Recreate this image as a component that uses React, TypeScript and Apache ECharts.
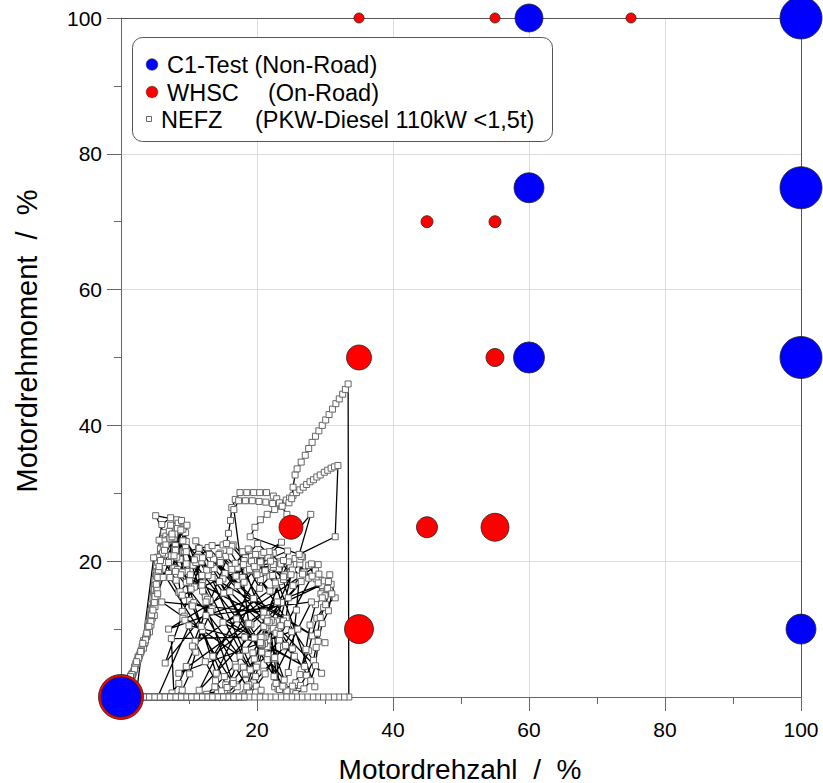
import React, { useEffect, useRef } from "react";
import * as echarts from "echarts";

// ---------- data ----------
const axisTicks = [20, 40, 60, 80, 100];

const c1Speed = [0, 60, 100, 60, 100, 60, 100, 100];
const c1Torque = [0, 100, 100, 75, 75, 50, 50, 10];
const c1Size = [40, 28, 42, 30, 42, 31, 42, 30];

const whscSpeed = [0, 35, 55, 75, 45, 55, 35, 55, 25, 45, 55, 35];
const whscTorque = [0, 100, 100, 100, 70, 70, 50, 50, 25, 25, 25, 10];
const whscSize = [45, 10, 10, 10, 12, 12, 25, 18, 24, 21, 28, 29];

// NEFZ trace (engine speed %, torque %)
const nefzA1 = [[0,0],[1.0,2.0],[2.0,4.4],[2.9,6.6],[3.8,8.9],[4.6,11.6],[5.1,14.4],[5.4,17.2],[5.6,19.6],[5.9,22.0],[6.3,24.2],[5.1,26.7],[8.2,26.1],[9.3,23.0],[10.6,19.4],[12.0,16.8],[13.1,14.2],[13.4,13.0],[13.2,12.6],[12.0,9.8],[10.8,7.2],[9.6,4.5],[8.5,2.0],[7.5,0.6],[6.6,0],[5.8,0],[5.0,0],[4.2,0],[3.4,0],[2.6,0],[1.8,0],[1.0,0],[0,0]];
const nefzA2 = [[0,0],[1.6,3.4],[2.5,5.9],[3.3,8.3],[4.0,10.9],[4.5,13.6],[4.9,16.4],[5.3,18.9],[6.0,21.4],[7.0,23.0],[8.5,24.5],[6.4,19.8],[8.1,17.2],[9.7,18.5],[11.3,20.6],[12.9,18.7],[14.6,21.2],[16.2,19.3],[17.9,17.6],[19.5,20.1],[21.1,18.4],[22.8,16.5],[23.6,13.9],[22.9,11.2],[22.4,10.6],[22.7,10.2],[23.3,8.4],[21.6,6.3],[20.1,4.8],[18.4,3.3],[16.9,1.8],[15.6,0.5],[14.6,0],[13.8,0],[13.0,0],[12.2,0],[11.4,0],[10.6,0],[9.8,0],[9.0,0],[8.2,0],[7.0,0],[4.6,0],[0,0]];
const nefzA3 = [[0,0],[1.8,3.6],[2.7,6.1],[3.6,8.6],[4.3,11.4],[4.8,14.1],[5.0,16.7],[5.2,19.3],[5.8,21.8],[6.6,23.7],[7.6,25.1],[7.0,18.2],[8.7,20.3],[10.2,18.0],[11.9,16.4],[13.7,18.9],[15.4,20.7],[17.1,19.0],[18.9,21.6],[20.6,19.7],[22.4,21.2],[17.9,21.4],[19.0,18.6],[20.4,16.0],[21.9,17.8],[23.4,19.9],[24.9,18.3],[26.3,19.6],[27.6,17.5],[28.6,18.6],[29.4,17.2],[29.7,15.5],[30.7,18.0],[31.5,14.6],[29.8,13.2],[28.8,11.6],[28.1,9.0],[27.6,6.8],[26.5,4.0],[25.7,2.1],[24.8,0.8],[23.6,1.5],[22.6,1.5],[21.6,8.4],[21.2,8.9],[20.9,8.7],[20.6,8.8],[19.4,6.5],[18.0,4.4],[16.5,2.4],[15.2,0.8],[14.2,0],[13.4,0],[12.6,0],[11.8,0],[11.0,0],[9.6,0],[8.0,0],[6.6,0],[5.2,0],[3.2,0],[0,0]];
const nefzB1 = [[0,0],[1.3,2.8],[2.2,5.0],[3.1,7.4],[3.9,10.0],[4.4,12.7],[4.8,15.3],[5.1,17.9],[5.5,20.4],[6.2,22.6],[7.1,24.4],[8.4,25.6],[9.1,21.4],[9.6,16.9],[10.1,14.2],[10.4,13.6],[10.7,13.9],[10.5,13.4],[15.4,1.8],[14.2,0.6],[8.6,0],[7.8,0],[7.0,0],[6.2,0],[5.4,0],[4.6,0],[3.8,0],[3.0,0],[2.2,0],[1.4,0],[0,0]];
const nefzB2 = [[0,0],[1.9,3.9],[2.8,6.4],[3.7,9.0],[4.3,11.8],[4.7,14.6],[5.0,17.3],[5.4,19.8],[6.3,22.1],[7.4,23.8],[9.0,24.9],[7.2,17.6],[8.5,15.4],[10.1,17.1],[11.8,19.9],[13.4,17.6],[15.1,15.3],[16.9,17.8],[18.6,19.5],[20.4,17.9],[22.1,19.2],[23.8,17.4],[24.6,14.6],[24.3,11.6],[23.9,11.2],[24.5,10.8],[25.1,9.6],[23.9,7.4],[22.6,5.6],[21.0,3.8],[19.5,2.1],[18.3,0.6],[17.5,0],[16.7,0],[15.9,0],[15.1,0],[14.3,0],[13.5,0],[12.7,0],[11.9,0],[11.1,0],[10.3,0],[8.9,0],[6.1,0],[0,0]];
const nefzB3 = [[0,0],[1.5,3.0],[2.4,5.4],[3.4,7.8],[4.1,10.4],[4.6,13.1],[4.9,15.8],[5.3,18.4],[5.9,21.0],[6.9,23.2],[8.0,24.3],[7.8,19.0],[9.3,21.5],[11.0,19.8],[12.8,22.0],[14.6,20.2],[16.5,22.4],[18.3,20.5],[20.1,22.6],[21.9,20.9],[23.6,22.8],[19.2,20.0],[20.5,17.3],[21.9,15.6],[23.4,17.0],[24.9,19.4],[26.3,17.8],[27.6,19.4],[28.7,17.4],[29.6,16.4],[30.3,15.8],[30.9,16.6],[30.1,13.6],[29.3,11.7],[28.9,9.4],[28.7,7.3],[28.3,5.4],[27.3,3.2],[26.4,1.7],[25.3,0.9],[24.2,1.0],[23.1,1.2],[22.0,10.0],[21.7,10.5],[21.3,10.2],[21.0,10.4],[19.6,8.7],[18.3,6.9],[16.8,4.8],[15.2,3.0],[13.8,1.5],[12.6,0.4],[11.4,0],[10.2,0],[8.6,0],[7.2,0],[5.6,0],[3.8,0],[0,0]];
const nefzC1 = [[0,0],[1.2,2.5],[2.3,4.9],[3.3,7.2],[4.2,9.6],[4.9,12.0],[5.3,14.8],[5.6,17.6],[5.8,20.3],[6.3,23.0],[7.3,25.3],[8.9,26.0],[8.0,22.3],[8.3,18.8],[8.7,15.5],[9.0,12.6],[9.3,11.9],[9.1,11.6],[9.4,11.3],[10.9,8.2],[12.4,5.2],[13.9,2.4],[14.8,0.9],[9.2,0],[8.4,0],[7.6,0],[6.8,0],[6.0,0],[5.2,0],[4.4,0],[3.6,0],[2.4,0],[0,0]];
const nefzC2 = [[0,0],[1.7,3.2],[2.6,5.7],[3.5,8.1],[4.2,10.7],[4.8,13.3],[5.2,16.0],[5.7,18.6],[6.5,21.0],[7.8,23.4],[9.5,24.2],[8.2,20.6],[9.6,22.9],[11.2,20.5],[12.8,17.9],[14.6,19.8],[16.3,22.2],[18.1,20.1],[19.9,18.3],[21.6,20.6],[23.2,18.9],[24.6,19.9],[21.4,12.2],[21.0,11.9],[21.6,11.6],[22.4,10.1],[20.8,7.6],[19.6,5.6],[18.3,3.5],[17.1,1.5],[16.0,0.2],[15.2,0],[14.4,0],[13.6,0],[12.8,0],[12.0,0],[11.2,0],[10.4,0],[9.6,0],[8.6,0],[7.4,0],[5.2,0],[0,0]];
const nefzC3 = [[0,0],[1.4,3.1],[2.5,5.5],[3.5,8.0],[4.4,10.6],[5.0,13.3],[5.3,16.0],[5.5,18.6],[6.1,21.2],[7.2,23.4],[8.3,24.8],[7.4,20.8],[9.0,18.4],[10.8,16.2],[12.6,18.7],[14.4,21.0],[16.3,18.8],[18.1,16.9],[20.0,19.2],[21.8,21.4],[23.5,19.6],[18.5,18.6],[19.8,21.0],[21.2,18.6],[22.7,16.8],[24.1,18.0],[25.6,20.4],[26.9,18.4],[28.1,17.8],[29.0,16.8],[29.4,15.2],[30.0,14.9],[29.6,14.6],[28.6,13.6],[27.8,10.6],[27.2,7.0],[26.3,3.3],[25.2,1.6],[24.0,1.4],[22.8,2.0],[21.5,7.4],[21.1,7.9],[20.8,7.7],[20.6,7.8],[19.9,4.4],[18.8,1.8],[17.9,0.3],[17.1,0],[16.3,0],[15.5,0],[14.7,0],[13.9,0],[13.1,0],[12.3,0],[11.5,0],[10.4,0],[8.8,0],[7.3,0],[5.8,0],[4.0,0],[0,0]];
const nefzD1 = [[0,0],[1.1,2.3],[2.1,4.6],[3.0,6.9],[3.9,9.3],[4.5,12.2],[4.9,15.0],[5.2,17.8],[5.4,20.6],[5.6,23.1],[6.0,25.4],[7.3,26.4],[9.1,24.7],[10.8,20.2],[12.0,15.6],[12.4,14.7],[12.7,14.4],[12.5,14.0],[11.8,10.4],[11.0,6.6],[10.1,3.4],[9.0,1.0],[7.8,0],[7.4,8.6],[18.2,8.8],[16.9,4.4],[15.6,1.4],[14.4,0],[7.0,0],[6.2,0],[5.4,0],[4.6,0],[3.8,0],[3.0,0],[2.0,0],[0,0]];
const nefzD2 = [[0,0],[2.0,4.1],[2.9,6.7],[3.8,9.4],[4.5,12.1],[5.0,14.8],[5.4,17.6],[5.8,20.1],[6.6,22.4],[7.9,24.0],[9.7,25.3],[8.8,18.0],[10.3,15.9],[11.9,17.9],[13.6,20.3],[15.3,18.2],[17.1,16.4],[18.9,18.8],[20.7,21.0],[22.4,19.1],[23.9,17.3],[25.2,18.7],[23.1,9.8],[22.8,9.4],[23.4,9.2],[24.2,7.6],[22.6,5.8],[21.2,3.4],[19.9,1.6],[18.8,0.4],[17.9,0],[17.1,0],[16.3,0],[15.5,0],[14.7,0],[13.9,0],[13.1,0],[12.3,0],[11.5,0],[10.7,0],[9.4,0],[7.8,0],[5.6,0],[0,0]];
const nefzD3 = [[0,0],[1.6,3.3],[2.6,5.8],[3.6,8.4],[4.4,11.1],[4.9,13.9],[5.2,16.6],[5.6,19.2],[6.4,21.6],[7.5,23.6],[8.8,24.6],[7.9,21.7],[9.6,19.6],[11.4,21.9],[13.2,19.5],[15.0,17.4],[16.8,19.7],[18.7,21.8],[20.5,19.9],[22.3,17.9],[23.9,20.1],[19.6,19.2],[21.0,21.3],[22.4,19.5],[23.9,17.7],[25.3,16.4],[26.7,18.1],[28.0,19.6],[29.1,18.1],[29.9,17.1],[30.4,16.0],[31.0,15.2],[30.5,12.7],[29.6,10.8],[29.0,8.2],[28.6,4.6],[27.9,2.4],[26.9,1.2],[25.7,0.5],[24.4,0.9],[23.3,1.1],[22.4,11.0],[22.1,11.3],[21.8,11.0],[21.5,11.2],[20.7,6.6],[19.8,3.0],[18.9,0.6],[18.0,0],[17.2,0],[16.4,0],[15.6,0],[14.8,0],[14.0,0],[13.2,0],[12.4,0],[11.6,0],[10.6,0],[9.2,0],[7.6,0],[6.0,0],[3.6,0],[0,0]];
// long transitions (gear changes / clutch events) that criss-cross the urban part
const nefzJumps = [[0,0],[2.2,0],[4.8,20.5],[16.5,2.0],[9.5,22.0],[20.6,1.0],[12.0,20.5],[6.5,5.0],[18.0,19.5],[24.0,2.5],[7.5,24.0],[14.0,3.5],[22.0,20.0],[28.5,1.5],[16.0,21.5],[10.5,7.5],[25.0,18.0],[19.0,4.0],[8.0,18.5],[23.5,10.5],[13.0,21.0],[29.5,3.5],[20.0,18.0],[11.5,1.0],[26.5,17.0],[17.5,6.0],[6.0,14.0],[21.0,12.5],[30.5,17.0],[15.0,11.0],[27.0,4.5],[9.0,15.0],[24.5,21.5],[18.5,1.5],[12.5,12.0],[28.0,14.0],[22.5,3.0],[14.5,17.0],[30.0,8.0],[19.5,14.5],[7.0,10.0],[16.0,15.5],[25.5,6.0],[11.0,23.0],[21.5,5.5],[29.0,19.5],[17.0,11.5],[13.5,6.0],[23.0,14.0],[8.5,3.5],[26.0,10.0],[20.5,8.0],[10.0,10.5],[5.4,0],[2.8,0],[0,0]];
const nefzEudc = [[0,0],[1.4,3.0],[2.3,5.2],[3.2,7.9],[4.1,10.4],[4.7,12.8],[5.4,15.2],[6.2,17.6],[7.0,19.8],[8.0,21.6],[9.1,23.0],[7.8,20.8],[9.6,21.4],[11.5,21.9],[13.4,22.3],[15.0,22.4],[15.5,22.6],[15.8,24.1],[16.1,26.0],[16.3,27.9],[16.8,29.1],[17.5,30.1],[18.5,30.1],[19.5,30.1],[20.4,30.1],[21.4,30.1],[22.4,29.6],[22.9,29.2],[23.6,28.1],[24.4,26.9],[25.1,25.4],[26.0,24.6],[27.9,26.9],[26.2,21.0],[26.7,20.6],[26.3,20.3],[26.5,20.7],[25.8,12.8],[25.2,7.1],[24.6,3.6],[23.8,1.6],[18.9,10.6],[18.7,10.9],[19.1,10.7],[18.8,10.8],[16.6,27.6],[17.3,28.9],[18.3,28.9],[19.3,28.9],[20.3,28.8],[21.3,28.7],[22.3,28.5],[23.3,28.6],[24.3,29.0],[24.8,29.3],[25.3,29.7],[25.8,30.1],[26.3,30.5],[26.8,30.9],[27.3,31.3],[27.8,31.7],[28.3,32.0],[28.8,32.4],[29.3,32.7],[29.9,33.1],[30.4,33.4],[30.9,33.7],[31.4,33.9],[31.9,34.1],[31.5,23.6],[26.2,21.0],[19.0,23.6],[19.7,25.0],[20.5,26.1],[21.5,26.9],[22.6,27.6],[23.7,28.1],[24.7,28.6],[25.1,29.2],[25.3,30.9],[25.6,32.7],[25.9,33.6],[26.5,34.6],[27.1,35.6],[27.6,36.6],[28.1,37.5],[28.6,38.4],[29.1,39.2],[29.6,40.0],[30.1,40.8],[30.6,41.6],[31.1,42.4],[31.6,43.2],[32.1,43.9],[32.6,44.6],[33.0,45.3],[33.4,46.1],[33.5,0],[32.8,0],[32.0,0],[31.3,0],[30.5,0],[29.7,0],[28.9,0],[28.2,0],[27.4,0],[26.6,0],[25.8,0],[25.1,0],[24.3,0],[23.5,0],[22.7,0],[21.9,0],[21.2,0],[20.4,0],[19.6,0],[18.8,0],[18.1,0],[17.3,0],[16.5,0],[15.7,0],[15.0,0],[14.2,0],[13.4,0],[12.6,0],[11.9,0],[11.1,0],[10.3,0],[9.5,0],[8.8,0],[8.0,0],[7.2,0],[6.4,0],[5.6,0],[4.9,0],[4.1,0],[3.3,0],[2.5,0],[1.8,0],[1.0,0],[0,0]];

const nefzPoints = [
  ...nefzA1, ...nefzA2, ...nefzA3,
  ...nefzB1, ...nefzB2, ...nefzB3,
  ...nefzC1, ...nefzC2, ...nefzC3,
  ...nefzD1, ...nefzD2, ...nefzD3,
  ...nefzJumps,
  ...nefzEudc,
];

const legendLabels = ["C1-Test (Non-Road)", "WHSC", "(On-Road)", "NEFZ", "(PKW-Diesel 110kW <1,5t)"];
const xTitle = "Motordrehzahl  /  %";
const yTitle = "Motordrehmoment  /  %";

const FONT = "'Liberation Sans', Arial, Helvetica, sans-serif";

function valueAxis(dim: "x" | "y") {
  return {
    type: "value",
    min: 0,
    max: 100,
    interval: 20,
    axisLine: { show: true, onZero: false, lineStyle: { color: "#666", width: 1 } },
    axisTick: { show: true, length: 14, lineStyle: { color: "#666", width: 1 } },
    minorTick: { show: true, splitNumber: 2, length: 7, lineStyle: { color: "#666", width: 1 } },
    axisLabel: {
      show: true,
      margin: dim === "x" ? 22 : 19,
      fontSize: 21,
      color: "#000",
      fontFamily: FONT,
      formatter: (v: number) => (axisTicks.includes(v) ? String(v) : ""),
    },
    splitLine: { show: true, showMinLine: false, showMaxLine: false, lineStyle: { color: "#dcdcdc", width: 1 } },
  };
}

function borderAxis(position: string) {
  return {
    type: "value",
    min: 0,
    max: 100,
    position,
    axisLine: { show: true, onZero: false, lineStyle: { color: "#555", width: 1 } },
    axisTick: { show: false },
    axisLabel: { show: false },
    splitLine: { show: false },
  };
}

export default function App() {
  const ref = useRef<HTMLDivElement>(null);
  useEffect(() => {
    document.body.style.margin = "0";
    if (!ref.current) return;
    const chart = echarts.init(ref.current, null, { renderer: "svg" });
    const c1Data = c1Speed.map((x, i) => [x, c1Torque[i], c1Size[i]]);
    const whscData = whscSpeed.map((x, i) => [x, whscTorque[i], whscSize[i]]);
    const textStyle = (extra: any) => ({ fontFamily: FONT, fill: "#000", ...extra });
    chart.setOption({
      animation: false,
      grid: { left: 121, right: 22, top: 18, bottom: 86 },
      xAxis: [valueAxis("x"), borderAxis("top")],
      yAxis: [valueAxis("y"), borderAxis("right")],
      series: [
        {
          name: "NEFZ",
          type: "line",
          data: nefzPoints,
          symbol: "rect",
          symbolSize: 6,
          showSymbol: true,
          clip: false,
          lineStyle: { color: "#000", width: 1.3 },
          itemStyle: { color: "#fff", borderColor: "#666", borderWidth: 1 },
          emphasis: { disabled: true },
          z: 2,
        },
        {
          name: "WHSC",
          type: "scatter",
          data: whscData,
          symbolSize: (v: number[]) => v[2],
          clip: false,
          itemStyle: { color: "#ff0000", borderColor: "#222", borderWidth: 0.8, opacity: 1 },
          emphasis: { disabled: true },
          z: 3,
        },
        {
          name: "C1-Test",
          type: "scatter",
          data: c1Data,
          symbolSize: (v: number[]) => v[2],
          clip: false,
          itemStyle: { color: "#0000ff", borderColor: "#222", borderWidth: 0.8, opacity: 1 },
          emphasis: { disabled: true },
          z: 4,
        },
      ],
      graphic: [
        {
          type: "rect",
          z: 10,
          shape: { x: 132.5, y: 37.5, width: 420, height: 104, r: 10 },
          style: { fill: "#fff", stroke: "#555", lineWidth: 1 },
        },
        { type: "circle", z: 11, shape: { cx: 152, cy: 64.5, r: 5.8 }, style: { fill: "#0000ff", stroke: "#222", lineWidth: 0.5 } },
        { type: "circle", z: 11, shape: { cx: 152, cy: 92, r: 5.8 }, style: { fill: "#ff0000", stroke: "#222", lineWidth: 0.5 } },
        { type: "rect", z: 11, shape: { x: 146.5, y: 116.5, width: 5, height: 5 }, style: { fill: "#fff", stroke: "#666", lineWidth: 1 } },
        { type: "text", z: 11, x: 167, y: 65, style: textStyle({ text: legendLabels[0], fontSize: 23.5, textVerticalAlign: "middle" }) },
        { type: "text", z: 11, x: 167, y: 93, style: textStyle({ text: legendLabels[1], fontSize: 23.5, textVerticalAlign: "middle" }) },
        { type: "text", z: 11, x: 268, y: 93, style: textStyle({ text: legendLabels[2], fontSize: 23.5, textVerticalAlign: "middle" }) },
        { type: "text", z: 11, x: 161, y: 120, style: textStyle({ text: legendLabels[3], fontSize: 23.5, textVerticalAlign: "middle" }) },
        { type: "text", z: 11, x: 255, y: 120, style: textStyle({ text: legendLabels[4], fontSize: 23.5, textVerticalAlign: "middle" }) },
        {
          type: "text",
          z: 11,
          x: 460,
          y: 769,
          style: textStyle({ text: xTitle, fontSize: 28, textAlign: "center", textVerticalAlign: "middle" }),
        },
        {
          type: "text",
          z: 11,
          x: 27,
          y: 341,
          rotation: Math.PI / 2,
          style: textStyle({ text: yTitle, fontSize: 29, textAlign: "center", textVerticalAlign: "middle" }),
        },
      ],
    });
    return () => chart.dispose();
  }, []);
  return <div ref={ref} style={{ width: 823, height: 783 }} />;
}
